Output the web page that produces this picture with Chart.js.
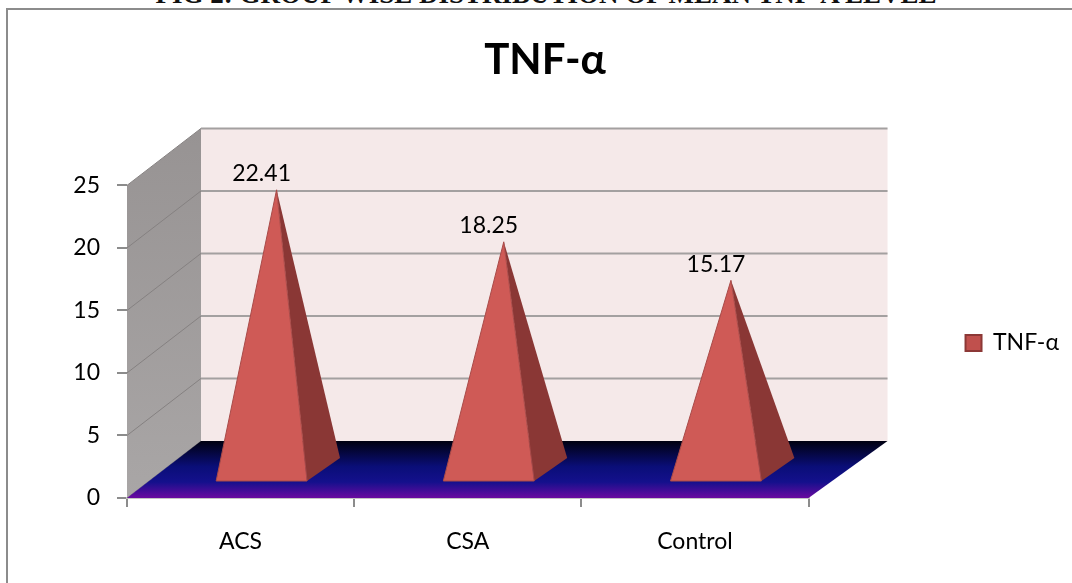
<!DOCTYPE html>
<html lang="en">
<head>
<meta charset="UTF-8">
<title>TNF-α</title>
<script src="https://cdn.jsdelivr.net/npm/chart.js"></script>
<style>
    html, body { margin: 0; padding: 0; background: #fff; }
    body { width: 1072px; height: 583px; overflow: hidden; position: relative; }
    #caption {
        position: absolute; left: 0; top: -21px; width: 1092px; text-align: center;
        font: bold 27px "Liberation Serif", serif; color: #111; white-space: nowrap;
    }
    #frame {
        position: absolute; left: 6px; top: 8px; width: 1080px; height: 600px;
        border: 2px solid #8c8c8c; box-sizing: border-box;
    }
    #tnf { position: absolute; left: 0; top: 0; }
</style>
</head>
<body>
<div id="caption">FIG 2: GROUP WISE DISTRIBUTION OF MEAN TNF-Α LEVEL</div>
<div id="frame"></div>
<canvas id="tnf" width="1072" height="583"></canvas>
<script>
const categories = ['ACS', 'CSA', 'Control'];
const tnfValues = [22.41, 18.25, 15.17];
const yTicks = [0, 5, 10, 15, 20, 25];
const seriesName = 'TNF-α';

// depth of the fake 3D box, in pixels
const depthX = 74, depthY = 57, backExtra = 5;
const font = 'Lato, "Open Sans", sans-serif';

const box3d = {
    id: 'box3d',
    afterLayout(chart) {
        // legend sits lower than its default centre
        chart.legend.top += 47;
        chart.legend.bottom += 47;
        chart.legend.left -= 3;
    },
    beforeDatasetsDraw(chart) {
        const { ctx, chartArea: a, scales: { y } } = chart;
        const z = y.getPixelForValue(0), t = y.getPixelForValue(25);
        const backRight = a.right + depthX + backExtra;
        ctx.save();

        // side wall
        const side = ctx.createLinearGradient(0, t - depthY, 0, z);
        side.addColorStop(0, '#979393');
        side.addColorStop(1, '#a9a6a6');
        ctx.fillStyle = side;
        ctx.beginPath();
        ctx.moveTo(a.left, t);
        ctx.lineTo(a.left + depthX, t - depthY);
        ctx.lineTo(a.left + depthX, z - depthY);
        ctx.lineTo(a.left, z);
        ctx.closePath();
        ctx.fill();

        // back wall
        ctx.fillStyle = '#f5e9e9';
        ctx.fillRect(a.left + depthX, t - depthY, backRight - a.left - depthX, z - t);

        // grid lines, back wall and side wall
        yTicks.forEach(v => {
            const py = y.getPixelForValue(v);
            ctx.strokeStyle = '#858181';
            ctx.lineWidth = 1;
            ctx.beginPath();
            ctx.moveTo(a.left, py);
            ctx.lineTo(a.left + depthX, py - depthY);
            ctx.stroke();
            if (v > 0) {
                ctx.strokeStyle = '#a3a0a0';
                ctx.lineWidth = 2;
                ctx.beginPath();
                ctx.moveTo(a.left + depthX, py - depthY);
                ctx.lineTo(backRight, py - depthY);
                ctx.stroke();
            }
        });

        // floor
        const floor = ctx.createLinearGradient(0, z - depthY, 0, z);
        floor.addColorStop(0, '#000010');
        floor.addColorStop(0.45, '#0a0e78');
        floor.addColorStop(0.72, '#14108c');
        floor.addColorStop(1, '#6a0aa0');
        ctx.fillStyle = floor;
        ctx.beginPath();
        ctx.moveTo(a.left, z);
        ctx.lineTo(a.left + depthX, z - depthY);
        ctx.lineTo(backRight, z - depthY);
        ctx.lineTo(a.right, z);
        ctx.closePath();
        ctx.fill();
        ctx.restore();
    },
    afterDatasetsDraw(chart) {
        const { ctx } = chart;
        const bars = chart.getDatasetMeta(0).data;
        ctx.save();
        bars.forEach((bar, i) => {
            // the bar element gives position and height, the box is offset into the depth
            const cx = bar.x + 21, base = bar.base - 16;
            const left = cx - bar.width / 2, right = cx + bar.width / 2;
            const apexX = cx + 15, apexY = bar.y - 28;

            ctx.fillStyle = '#8a3735';
            ctx.beginPath();
            ctx.moveTo(right, base);
            ctx.lineTo(right + 33, base - 23);
            ctx.lineTo(apexX, apexY);
            ctx.closePath();
            ctx.fill();

            ctx.fillStyle = '#cf5a56';
            ctx.strokeStyle = '#a94b49';
            ctx.lineWidth = 1;
            ctx.beginPath();
            ctx.moveTo(left, base);
            ctx.lineTo(right, base);
            ctx.lineTo(apexX, apexY);
            ctx.closePath();
            ctx.fill();
            ctx.stroke();

            ctx.fillStyle = '#000';
            ctx.font = '23px ' + font;
            ctx.textAlign = 'center';
            ctx.textBaseline = 'middle';
            ctx.fillText(tnfValues[i].toFixed(2), cx, apexY - 16);
        });
        ctx.restore();
    }
};

new Chart(document.getElementById('tnf'), {
    type: 'bar',
    data: {
        labels: categories,
        datasets: [{
            label: seriesName,
            data: tnfValues,
            backgroundColor: 'rgba(0,0,0,0)',
            borderWidth: 0,
            categoryPercentage: 1,
            barPercentage: 0.4
        }]
    },
    options: {
        responsive: false,
        animation: false,
        layout: { padding: { top: 9, right: 0, bottom: 0, left: 18 } },
        plugins: {
            tooltip: { enabled: false },
            title: {
                display: true,
                text: seriesName,
                color: '#000',
                font: { family: font, size: 42, weight: 'bold' },
                padding: { top: 26, bottom: 100 }
            },
            legend: {
                position: 'right',
                maxWidth: 264,
                labels: {
                    color: '#000',
                    font: { family: font, size: 23 },
                    boxWidth: 16,
                    boxHeight: 16,
                    padding: 160,
                    generateLabels: () => [{
                        text: seriesName,
                        fillStyle: '#c0504d',
                        strokeStyle: '#8c3836',
                        lineWidth: 2,
                        fontColor: '#000'
                    }]
                }
            }
        },
        scales: {
            x: {
                offset: true,
                grid: { offset: true, drawOnChartArea: false, color: '#8c8c8c', lineWidth: 2, tickLength: 9 },
                border: { color: '#c4c4c4', width: 2 },
                ticks: { color: '#000', font: { family: font, size: 23 }, padding: 21, maxRotation: 0 },
                afterFit: s => { s.height = 85; }
            },
            y: {
                min: 0,
                max: 25,
                grid: { drawOnChartArea: false, color: '#8c8c8c', lineWidth: 2, tickLength: 10 },
                border: { color: '#c4c4c4', width: 1 },
                afterBuildTicks: s => { s.ticks = yTicks.map(v => ({ value: v })); },
                ticks: { color: '#000', font: { family: font, size: 23 }, padding: 17 },
                afterFit: s => { s.width = 109; }
            }
        }
    },
    plugins: [box3d]
});
</script>
</body>
</html>
